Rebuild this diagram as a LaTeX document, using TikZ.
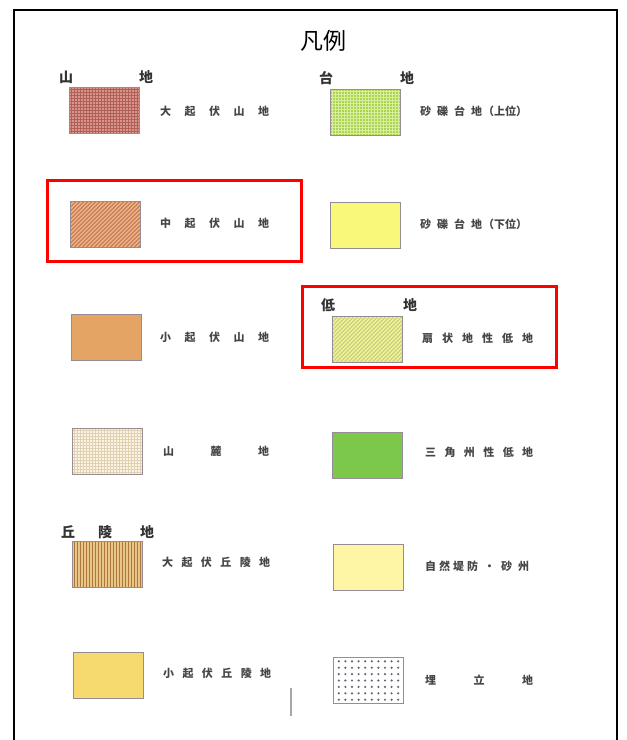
\documentclass[tikz,border=0pt]{standalone}
\usepackage{fontspec}
\newfontfamily\jp{Noto Sans CJK JP}
\definecolor{cAbase}{RGB}{215,150,140}
\definecolor{cAline}{RGB}{178,95,88}
\definecolor{cBbase}{RGB}{236,178,132}
\definecolor{cBline}{RGB}{192,112,78}
\definecolor{cC}{RGB}{228,165,100}
\definecolor{cDbase}{RGB}{250,244,228}
\definecolor{cDline}{RGB}{226,208,178}
\definecolor{cEbase}{RGB}{232,198,135}
\definecolor{cEline}{RGB}{172,118,60}
\definecolor{cF}{RGB}{247,218,110}
\definecolor{rAbase}{RGB}{172,212,78}
\definecolor{rAline}{RGB}{214,238,158}
\definecolor{rB}{RGB}{250,248,122}
\definecolor{rCbase}{RGB}{236,238,168}
\definecolor{rCline}{RGB}{196,210,92}
\definecolor{rD}{RGB}{124,200,74}
\definecolor{rE}{RGB}{255,246,165}
\definecolor{rFdot}{RGB}{100,100,118}
\definecolor{swborder}{RGB}{150,140,150}
\definecolor{txt}{RGB}{70,70,70}
\tikzset{
  sw/.style={draw=swborder, line width=0.6pt, minimum width=70pt, minimum height=46pt, inner sep=0pt, outer sep=0pt},
  gridpat/.style 2 args={fill=#1, path picture={
    \foreach \k in {-36,-33,...,36} {\draw[#2, line width=0.6pt] ([xshift=\k pt, yshift=-30pt]path picture bounding box.center) -- ++(0pt,60pt);}
    \foreach \k in {-24,-21,...,24} {\draw[#2, line width=0.6pt] ([yshift=\k pt, xshift=-40pt]path picture bounding box.center) -- ++(80pt,0pt);}
  }},
  hatchpat/.style 2 args={fill=#1, path picture={
    \foreach \k in {-84,-80,...,84} {\draw[#2, line width=0.9pt] ([xshift=\k pt]path picture bounding box.center) ++(-30pt,-30pt) -- ++(60pt,60pt);}
  }},
  vstripe/.style 2 args={fill=#1, path picture={
    \foreach \k in {-36,-33,...,36} {\draw[#2, line width=0.9pt] ([xshift=\k pt, yshift=-30pt]path picture bounding box.center) -- ++(0pt,60pt);}
  }},
  dotpat/.style={fill=white, path picture={
    \foreach \i in {-4,...,5} {\foreach \j in {-3,...,3} {\fill[rFdot] ([xshift=\i*6.6pt-3.3pt, yshift=\j*6.4pt]path picture bounding box.center) circle (1.2pt);}}
  }},
  lab/.style={anchor=west, inner sep=0pt, text=txt, font=\jp\bfseries\fontsize{11pt}{13pt}\selectfont},
  hdr/.style={inner sep=0pt, text=black!80, font=\jp\bfseries\fontsize{14pt}{16pt}\selectfont},
  redbox/.style={draw=red, line width=3pt},
}
\newcommand\gp[1]{\hspace{#1pt}}
\begin{document}
\begin{tikzpicture}[x=1pt,y=-1pt]
\useasboundingbox (0,0) rectangle (627,740);
% outer frame (open at the bottom)
\draw[line width=1.5pt, black] (14,745) -- (14,10) -- (617,10) -- (617,745);
% title
\node[inner sep=0pt, font=\jp\fontsize{23pt}{26pt}\selectfont] (title) at (323,41) {凡例};
% fold line
\draw[black!35, line width=1.5pt] (291,688) -- (291,716);

% ---------- left column ----------
\node[hdr] (hA1) at (66,77) {山};
\node[hdr] (hA2) at (146,77) {地};
\node[sw, gridpat={cAbase}{cAline}] (s1) at (104.5,110.5) {};
\node[lab] (l1) at (160,111) {大\gp{13.5}起\gp{13.5}伏\gp{13.5}山\gp{13.5}地};

\node[sw, hatchpat={cBbase}{cBline}] (s2) at (105,224.5) {};
\node[lab] (l2) at (160,223) {中\gp{13.5}起\gp{13.5}伏\gp{13.5}山\gp{13.5}地};

\node[sw, fill=cC] (s3) at (106.5,337.5) {};
\node[lab] (l3) at (160,337) {小\gp{13.5}起\gp{13.5}伏\gp{13.5}山\gp{13.5}地};

\node[sw, gridpat={cDbase}{cDline}] (s4) at (107,451.5) {};
\node[lab] (l4) at (163,451) {山\gp{36.5}麓\gp{36.5}地};

\node[hdr] (hB1) at (68,532) {丘};
\node[hdr] (hB2) at (105,532) {陵};
\node[hdr] (hB3) at (147,532) {地};
\node[sw, vstripe={cEbase}{cEline}] (s5) at (107,564.5) {};
\node[lab] (l5) at (162,562) {大\gp{8.4}起\gp{8.4}伏\gp{8.4}丘\gp{8.4}陵\gp{8.4}地};

\node[sw, fill=cF] (s6) at (108,675.5) {};
\node[lab] (l6) at (163,673) {小\gp{8.4}起\gp{8.4}伏\gp{8.4}丘\gp{8.4}陵\gp{8.4}地};

% ---------- right column ----------
\node[hdr] (hC1) at (326,78) {台};
\node[hdr] (hC2) at (407,78) {地};
\node[sw, gridpat={rAbase}{rAline}] (r1) at (365,112) {};
\node[lab] (m1) at (420,111) {砂\gp{6}礫\gp{6}台\gp{6}地\gp{1}（上位）};

\node[sw, fill=rB] (r2) at (365.5,225.5) {};
\node[lab] (m2) at (420,224) {砂\gp{6}礫\gp{6}台\gp{6}地\gp{1}（下位）};

\node[hdr] (hD1) at (328,305) {低};
\node[hdr] (hD2) at (410,305) {地};
\node[sw, hatchpat={rCbase}{rCline}] (r3) at (367,339.5) {};
\node[lab] (m3) at (422,338) {扇\gp{9}状\gp{9}地\gp{9}性\gp{9}低\gp{9}地};

\node[sw, fill=rD] (r4) at (367,455) {};
\node[lab] (m4) at (425,452) {三\gp{8.4}角\gp{8.4}州\gp{8.4}性\gp{8.4}低\gp{8.4}地};

\node[sw, fill=rE] (r5) at (368,567.5) {};
\node[lab] (m5) at (425,566) {自\gp{3}然\gp{3}堤\gp{3}防\gp{6}・\gp{6}砂\gp{6}州};

\node[sw, dotpat] (r6) at (368.5,680.5) {};
\node[lab] (m6) at (425,680) {埋\gp{37.5}立\gp{37.5}地};

% ---------- red highlight boxes ----------
\draw[redbox] (47,180) rectangle (301,261);
\draw[redbox] (302,286) rectangle (556,367);
\end{tikzpicture}
\end{document}
